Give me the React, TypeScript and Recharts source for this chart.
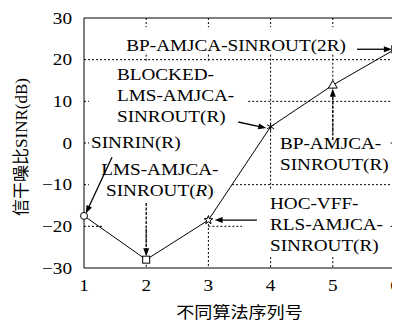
import React from 'react';
import {
  LineChart,
  Line,
  XAxis,
  YAxis,
  ReferenceLine,
  ReferenceDot,
  Label,
} from 'recharts';

// ---------- data ----------
const algorithmIds = [1, 2, 3, 4, 5, 6];
const sinrDb = [-17.5, -28.0, -18.5, 3.9, 13.9, 22.5];
const markerKinds = ['circle', 'square', 'pentagram', 'asterisk', 'triangle', 'filledSquare'];
const xTicks = [1, 2, 3, 4, 5, 6];
const yTicks = [-30, -20, -10, 0, 10, 20, 30];
const xTitle = '不同算法序列号';
const yTitleCjk = '信干噪比';
const yTitleLatin = 'SINR(dB)';

// annotation texts (*...* = italic)
const noteTexts = [
  ['BP-AMJCA-SINROUT(2R)'],
  ['BLOCKED-', 'LMS-AMJCA-', 'SINROUT(R)'],
  ['SINRIN(R)'],
  ['LMS-AMJCA-', 'SINROUT(*R*)'],
  ['BP-AMJCA-', 'SINROUT(R)'],
  ['HOC-VFF-', 'RLS-AMJCA-', 'SINROUT(R)'],
];
const noteAnchorX = [3.445, 1.53, 1.113, 2.22, 4.151, 3.99];
const noteAnchorY = [23.5, 16.56, 0.24, -6.24, 0.0, -14.4];
const noteAlign = ['middle', 'start', 'start', 'middle', 'start', 'start'];

// visible pieces of the dotted grid (the rest is hidden behind the text boxes)
const gridX1 = [1, 3.64, 3.38, 1, 3.0, 1, 1, 1, 5.93, 5.93, 2, 3, 4, 5, 2, 3, 2, 3, 4, 4, 5, 5];
const gridX2 = [6, 6, 6, 1.3, 3.54, 1.08, 1.08, 1.08, 6, 6, 2, 3, 4, 5, 2, 3, 2, 3, 4, 4, 5, 5];
const gridY1 = [20, 10, -10, -20, -20, 10, 0, -10, 0, -20, 30, 30, 30, 30, 21.2, 21.2, -20.6, -17.5, 21.2, -27.4, 21.2, -27.4];
const gridY2 = [20, 10, -10, -20, -20, 10, 0, -10, 0, -20, 27.8, 27.8, 27.8, 27.8, 19.4, 19.4, -30, -30, -11.3, -30, 2.6, -30];

// arrows (data coords)
const arrowFromX = [1.45, 2, 3.78, 3.48, 5, 5.39];
const arrowFromY = [-3.4, -14.4, -18.5, 5.04, 0.7, 22.5];
const arrowToX = [1.03, 2, 3.1, 3.93, 5, 5.95];
const arrowToY = [-16.9, -27.2, -18.5, 3.6, 13.0, 22.5];
const arrowDashed = [false, true, false, false, true, false];

const chartData = algorithmIds.map((x, i) => ({ x, sinr: sinrDb[i] }));

// ---------- styles ----------
const SERIF = "'Liberation Serif', 'Times New Roman', serif";
const CJK = "'Noto Sans CJK SC', sans-serif";
const SX = 1.2;
const LINE_H = 21;
const FS = 16;
const X_MIN = xTicks[0];
const X_MAX = xTicks[xTicks.length - 1];
const Y_MIN = yTicks[0];
const Y_MAX = yTicks[yTicks.length - 1];

const fmt = (v: number) => (v < 0 ? `\u2212${-v}` : `${v}`);

const renderSegments = (ln: string) =>
  ln.split('*').map((seg, i) => (
    <tspan key={i} fontStyle={i % 2 === 1 ? 'italic' : 'normal'}>
      {seg}
    </tspan>
  ));

const NoteText = ({ cx, cy, lines, align }: any) => (
  <g>
    {lines.map((ln: string, i: number) => (
      <text
        key={i}
        transform={`translate(${cx},${cy + i * LINE_H}) scale(${SX},1)`}
        textAnchor={align}
        dy="0.35em"
        fontFamily={SERIF}
        fontSize={FS}
        fill="#000"
      >
        {renderSegments(ln)}
      </text>
    ))}
  </g>
);

const GridShape = (p: any) => (
  <line
    x1={Number(p.x1)}
    y1={Number(p.y1)}
    x2={Number(p.x2)}
    y2={Number(p.y2)}
    stroke="#000"
    strokeWidth={1}
    strokeDasharray="2 2"
  />
);

const makeArrow = (dashed: boolean) => (p: any) => {
  const x1 = Number(p.x1), y1 = Number(p.y1), x2 = Number(p.x2), y2 = Number(p.y2);
  const dx = x2 - x1, dy = y2 - y1;
  const len = Math.hypot(dx, dy) || 1;
  const ux = dx / len, uy = dy / len;
  const L = 8, W = 3;
  const bx = x2 - ux * L, by = y2 - uy * L;
  const pts = `${x2},${y2} ${bx - uy * W},${by + ux * W} ${bx + uy * W},${by - ux * W}`;
  return (
    <g>
      <line
        x1={x1}
        y1={y1}
        x2={bx + ux * 1}
        y2={by + uy * 1}
        stroke="#000"
        strokeWidth={1.3}
        strokeDasharray={dashed ? '3 1.5' : undefined}
      />
      <polygon points={pts} fill="#000" />
    </g>
  );
};

const renderDot = (p: any) => {
  const { cx, cy, index } = p;
  const kind = markerKinds[index];
  const key = `dot-${index}`;
  if (cx == null || cy == null) return <g key={key} />;
  switch (kind) {
    case 'circle':
      return <circle key={key} cx={cx} cy={cy} r={3.5} fill="#fff" stroke="#000" strokeWidth={1} />;
    case 'square':
      return <rect key={key} x={cx - 3.5} y={cy - 3.5} width={7} height={7} fill="#fff" stroke="#000" strokeWidth={1} />;
    case 'pentagram': {
      const pts: string[] = [];
      for (let k = 0; k < 10; k++) {
        const r = k % 2 === 0 ? 4.5 : 1.8;
        const a = -Math.PI / 2 + (k * Math.PI) / 5;
        pts.push(`${cx + r * Math.cos(a)},${cy + r * Math.sin(a)}`);
      }
      return <polygon key={key} points={pts.join(' ')} fill="#fff" stroke="#000" strokeWidth={1} />;
    }
    case 'asterisk': {
      const r = 4;
      return (
        <g key={key} stroke="#000" strokeWidth={1}>
          <line x1={cx} y1={cy - r} x2={cx} y2={cy + r} />
          <line x1={cx - r * 0.87} y1={cy - r * 0.5} x2={cx + r * 0.87} y2={cy + r * 0.5} />
          <line x1={cx - r * 0.87} y1={cy + r * 0.5} x2={cx + r * 0.87} y2={cy - r * 0.5} />
        </g>
      );
    }
    case 'triangle':
      return (
        <polygon
          key={key}
          points={`${cx},${cy - 4.5} ${cx - 4.5},${cy + 3} ${cx + 4.5},${cy + 3}`}
          fill="#fff"
          stroke="#000"
          strokeWidth={1}
        />
      );
    default:
      return <rect key={key} x={cx - 3.5} y={cy - 3.5} width={7} height={7} fill="#888" stroke="#444" strokeWidth={1} />;
  }
};

const XTick = (p: any) => (
  <text
    transform={`translate(${p.x},${p.y}) scale(${SX},1)`}
    textAnchor="middle"
    dy="0.35em"
    fontFamily={SERIF}
    fontSize={FS}
    fill="#000"
  >
    {fmt(p.payload.value)}
  </text>
);

const YTick = (p: any) => (
  <text
    transform={`translate(${p.x},${p.y}) scale(${SX},1)`}
    textAnchor="end"
    dy="0.35em"
    fontFamily={SERIF}
    fontSize={FS}
    fill="#000"
  >
    {fmt(p.payload.value)}
  </text>
);

const XTitle = (props: any) => {
  const vb = props.viewBox || { x: 76, y: 260, width: 311, height: 54 };
  return (
    <text
      transform={`translate(${vb.x + vb.width / 2},${vb.y + 44}) scale(1.13,1)`}
      textAnchor="middle"
      dy="0.38em"
      fontFamily={CJK}
      fontSize={16}
      fill="#000"
    >
      {xTitle}
    </text>
  );
};

const YTitle = (props: any) => {
  const vb = props.viewBox || { x: 0, y: 10, width: 76, height: 250 };
  return (
    <text
      transform={`translate(${vb.x + 13},${vb.y + vb.height / 2 + 4}) rotate(-90)`}
      textAnchor="middle"
      dy="0.36em"
      fontSize={17}
      fill="#000"
    >
      <tspan fontFamily={CJK}>{yTitleCjk}</tspan>
      <tspan fontFamily={SERIF}>{yTitleLatin}</tspan>
    </text>
  );
};

export default function App() {
  return (
    <LineChart
      width={392}
      height={314}
      data={chartData}
      margin={{ top: 9, right: 4, bottom: 0, left: 0 }}
    >
      {gridX1.map((_, i) => (
        <ReferenceLine
          key={`grid-${i}`}
          segment={[
            { x: gridX1[i], y: gridY1[i] },
            { x: gridX2[i], y: gridY2[i] },
          ]}
          ifOverflow="visible"
          shape={GridShape}
        />
      ))}
      <Line
        type="linear"
        dataKey="sinr"
        stroke="#000"
        strokeWidth={1}
        dot={renderDot}
        activeDot={false}
        isAnimationActive={false}
      />
      {arrowFromX.map((_, i) => (
        <ReferenceLine
          key={`arrow-${i}`}
          segment={[
            { x: arrowFromX[i], y: arrowFromY[i] },
            { x: arrowToX[i], y: arrowToY[i] },
          ]}
          ifOverflow="visible"
          shape={makeArrow(arrowDashed[i])}
        />
      ))}
      {noteTexts.map((lines, i) => (
        <ReferenceDot
          key={`note-${i}`}
          x={noteAnchorX[i]}
          y={noteAnchorY[i]}
          r={0}
          ifOverflow="visible"
          shape={(p: any) => <NoteText cx={p.cx} cy={p.cy} lines={lines} align={noteAlign[i]} />}
        />
      ))}
      <XAxis
        dataKey="x"
        type="number"
        domain={[X_MIN, X_MAX]}
        ticks={xTicks}
        interval={0}
        height={54}
        stroke="#000"
        tickLine={false}
        tickSize={0}
        tickMargin={17}
        tick={XTick}
      >
        <Label content={XTitle} />
      </XAxis>
      <XAxis
        xAxisId="top"
        orientation="top"
        type="number"
        domain={[X_MIN, X_MAX]}
        ticks={xTicks}
        interval={0}
        height={1}
        stroke="#000"
        tickLine={false}
        tick={false}
      />
      <YAxis
        type="number"
        domain={[Y_MIN, Y_MAX]}
        ticks={yTicks}
        interval={0}
        width={76}
        stroke="#000"
        tickLine={false}
        tickSize={0}
        tickMargin={12}
        tick={YTick}
      >
        <Label content={YTitle} />
      </YAxis>
      <YAxis
        yAxisId="right"
        orientation="right"
        type="number"
        domain={[Y_MIN, Y_MAX]}
        ticks={yTicks}
        interval={0}
        width={1}
        stroke="#000"
        tickLine={false}
        tick={false}
      />
    </LineChart>
  );
}
